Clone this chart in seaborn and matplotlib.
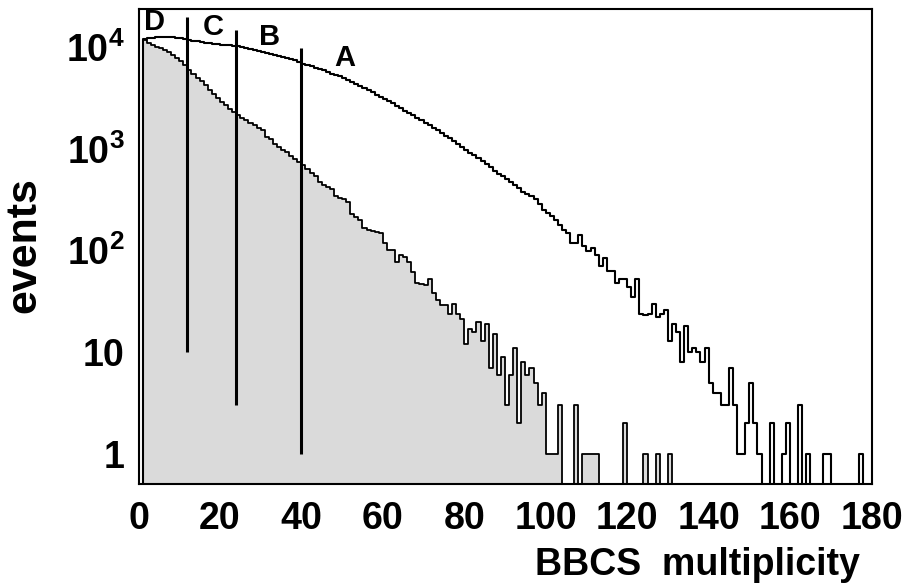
import numpy as np
import pandas as pd
import matplotlib
matplotlib.use("Agg")
import matplotlib.pyplot as plt
import seaborn as sns
from matplotlib.ticker import FixedLocator, FixedFormatter, NullFormatter

# ---- data (bin width 1, bins 0..179) ----
bin_start = 0
bin_stop = 180

counts_all = [
    0, 12000, 12300, 12400, 12600, 12700, 12700, 12700, 12600, 12400,
    12200, 12000, 11700, 11500, 11400, 11200, 11000, 10900, 10800, 10700,
    10600, 10500, 10400, 10300, 10200, 10000, 9800, 9600, 9400, 9200,
    9000, 8800, 8600, 8400, 8200, 8000, 7800, 7600, 7400, 7200,
    6900, 6700, 6500, 6300, 6100, 5900, 5700, 5500, 5330, 5150,
    4950, 4750, 4550, 4350, 4150, 3950, 3800, 3600, 3420, 3260,
    3100, 2950, 2800, 2650, 2500, 2380, 2250, 2150, 2000, 1900,
    1800, 1700, 1600, 1520, 1430, 1350, 1280, 1200, 1120, 1050,
    975, 920, 870, 820, 760, 710, 660, 610, 570, 540,
    500, 470, 440, 410, 380, 360, 340, 320, 290, 250,
    232, 220, 200, 180, 160, 150, 119, 120, 142, 110,
    100, 106, 90, 70, 85, 63, 63, 48, 52, 52,
    44, 35, 52, 24, 23, 24, 30, 22, 24, 26,
    13, 19, 16, 8, 18, 10, 11, 10, 8, 11,
    5, 4, 4, 3, 3, 7, 3, 1, 1, 2,
    5, 2, 1, 0, 0, 2, 0, 0, 1, 2,
    0, 0, 3, 0, 1, 0, 0, 0, 1, 1,
    0, 0, 0, 0, 0, 0, 0, 1, 0, 0,
]

counts_central = [
    0, 11800, 11000, 10500, 10000, 9700, 9300, 8900, 8300, 7900,
    7300, 6700, 6000, 5400, 5000, 4600, 4200, 3800, 3450, 3150,
    2900, 2700, 2450, 2300, 2150, 2000, 1900, 1800, 1700, 1600,
    1530, 1300, 1250, 1120, 1050, 980, 930, 860, 800, 740,
    690, 640, 580, 540, 470, 440, 420, 400, 340, 330,
    320, 300, 230, 215, 200, 165, 158, 155, 152, 149,
    119, 101, 101, 78, 90, 87, 78, 62, 48, 47,
    46, 52, 38, 33, 29, 29, 24, 30, 24, 21,
    12, 17, 16, 20, 13, 19, 7, 15, 6, 9,
    3, 6, 11, 2, 8, 6, 7, 5, 3, 4,
    1, 1, 1, 3, 0, 0, 0, 3, 0, 1,
    1, 1, 1, 0, 0, 0, 0, 0, 0, 2,
    0, 0, 0, 0, 1, 0, 0, 1, 0, 0,
    1, 0, 0, 0, 0, 0, 0, 0, 0, 0,
    0, 0, 0, 0, 0, 0, 0, 0, 0, 0,
    0, 0, 0, 0, 0, 0, 0, 0, 0, 0,
    0, 0, 0, 0, 0, 0, 0, 0, 0, 0,
    0, 0, 0, 0, 0, 0, 0, 0, 0, 0,
]

cut_positions = [12, 24, 40]
cut_bottoms = [10, 3, 1]
cut_tops = [19800, 14700, 9800]

class_labels = ["D", "C", "B", "A"]
class_label_x = [4.0, 18.3, 32.3, 50.7]
class_label_y = [17700, 15800, 12600, 7800]

x_ticks = [0, 20, 40, 60, 80, 100, 120, 140, 160, 180]
y_ticks = [1, 10, 100, 1000, 10000]
y_tick_labels = ["1", "10", r"$\mathbf{10^{2}}$", r"$\mathbf{10^{3}}$", r"$\mathbf{10^{4}}$"]

# ---- style ----
sns.set_theme(style="white")
plt.rcParams["font.family"] = ["Liberation Sans", "DejaVu Sans"]
plt.rcParams["font.weight"] = "bold"
plt.rcParams["text.color"] = "black"
plt.rcParams["axes.labelcolor"] = "black"
plt.rcParams["xtick.color"] = "black"
plt.rcParams["ytick.color"] = "black"
plt.rcParams["mathtext.fontset"] = "custom"
plt.rcParams["mathtext.rm"] = "Liberation Sans:bold"
plt.rcParams["mathtext.bf"] = "Liberation Sans:bold"

fig = plt.figure(figsize=(9.07, 5.85), dpi=100)
ax = fig.add_axes([138.5 / 907, 1 - 484 / 585, (871.5 - 138.5) / 907, (484 - 9) / 585])

nbins = bin_stop - bin_start
centers = np.arange(bin_start, bin_stop) + 0.5
df = pd.DataFrame({"x": centers,
                   "all": np.array(counts_all, dtype=float),
                   "central": np.array(counts_central, dtype=float)})

ax.set_yscale("log")

# filled (grey) histogram
sns.histplot(data=df, x="x", weights="central", bins=nbins, binrange=(bin_start, bin_stop),
             element="step", fill=True, color="#dadada", alpha=1.0, linewidth=0, ax=ax)
sns.histplot(data=df, x="x", weights="central", bins=nbins, binrange=(bin_start, bin_stop),
             element="step", fill=False, color="black", linewidth=1.3, ax=ax)
# open histogram
sns.histplot(data=df, x="x", weights="all", bins=nbins, binrange=(bin_start, bin_stop),
             element="step", fill=False, color="black", linewidth=1.5, ax=ax)

for xp, yb, yt in zip(cut_positions, cut_bottoms, cut_tops):
    ax.plot([xp, xp], [yb, yt], color="black", linewidth=2.2, solid_capstyle="butt")

for lab, lx, ly in zip(class_labels, class_label_x, class_label_y):
    ax.text(lx, ly, lab, fontsize=21, fontweight="bold", ha="center", va="center",
            color="black")

ax.set_xlim(0, 180)
ax.set_ylim(0.507, 23700)

ax.xaxis.set_major_locator(FixedLocator(x_ticks))
ax.xaxis.set_minor_locator(FixedLocator(np.arange(0, 181, 5)))
ax.yaxis.set_major_locator(FixedLocator(y_ticks))
ax.yaxis.set_major_formatter(FixedFormatter(y_tick_labels))
minor_y = [m * 10.0 ** e for e in range(-1, 5) for m in range(2, 10)]
ax.yaxis.set_minor_locator(FixedLocator(minor_y))
ax.yaxis.set_minor_formatter(NullFormatter())

ax.tick_params(axis="both", which="both", direction="in", colors="black",
               labelcolor="black", top=False, right=False, width=1.0)
ax.tick_params(axis="x", which="major", length=14, labelsize=27, pad=12)
ax.tick_params(axis="x", which="minor", length=7)
ax.tick_params(axis="y", which="major", length=20, labelsize=27, pad=10)
ax.tick_params(axis="y", which="minor", length=10)
for lab in ax.get_xticklabels() + ax.get_yticklabels():
    lab.set_fontweight("bold")
    lab.set_color("black")

for sp in ax.spines.values():
    sp.set_color("black")
    sp.set_linewidth(1.5)

ax.set_xlabel("")
ax.set_ylabel("")
fig.text(860 / 907, 1 - 565 / 585, "BBCS  multiplicity", fontsize=27, fontweight="bold",
         ha="right", va="center", color="black")
fig.text(24 / 907, 1 - 245 / 585, "events", fontsize=31, fontweight="bold",
         ha="center", va="center", rotation=90, color="black")

fig.savefig("out.png", dpi=100)
